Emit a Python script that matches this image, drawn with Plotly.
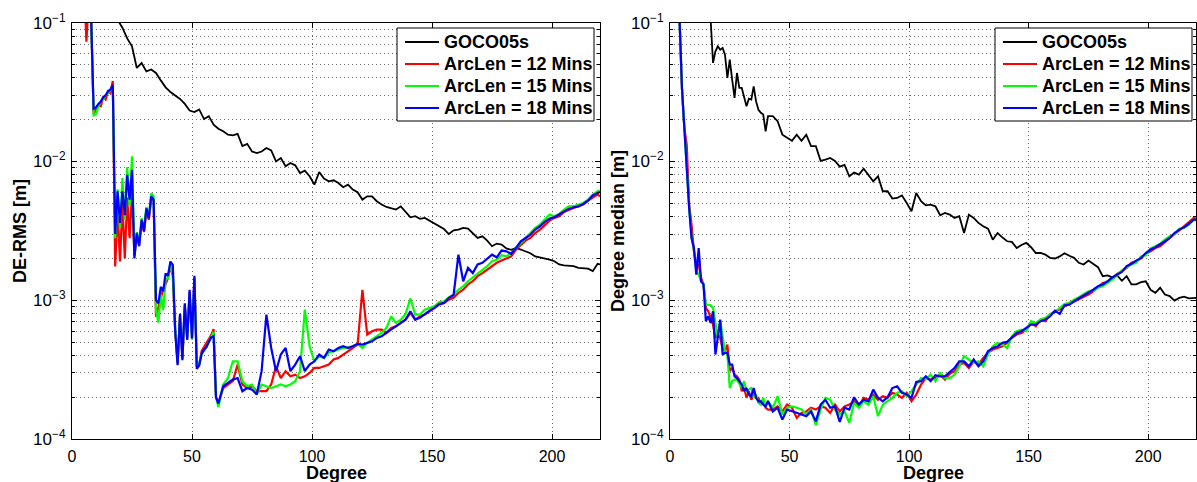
import plotly.graph_objects as go

# ---------------- data (values in mm; converted to m below) ----------------
L_deg = list(range(5, 62)) + list(range(63, 220, 2)) + [220]

L_red = [
    200, 73, 150, 105, 22, 23.5, 25.5, 25, 29, 28,
    32, 31, 38, 1.75, 4.5, 1.9, 5.0, 2.0, 5.5, 2.8,
    6.0, 2.1, 2.9, 2.5, 3.7, 3.1, 4.4, 3.8, 5.4, 5.2,
    0.76, 0.89, 1.05, 1.2, 1.3, 1.45, 1.75, 1.5, 0.6, 0.35,
    0.78, 0.38, 0.92, 0.52, 1.15, 0.54, 1.45, 0.33, 0.34, 0.43,
    0.46, 0.49, 0.53, 0.56, 0.62, 0.2, 0.18,
    0.233, 0.247, 0.261, 0.344, 0.247, 0.233, 0.240, 0.221, 0.221, 0.221,
    0.247, 0.334, 0.275, 0.308, 0.283, 0.291, 0.275, 0.283, 0.299, 0.325,
    0.325, 0.334, 0.344, 0.374, 0.384, 0.406, 0.429, 0.453, 0.479,
    1.19, 0.566, 0.598, 0.614, 0.614, 0.581, 0.632, 0.649, 0.686, 0.725,
    0.810, 0.725, 0.766, 0.788, 0.833, 0.880, 0.930, 0.956, 1.01, 1.04,
    1.13, 1.19, 1.30, 1.37, 1.49, 1.57, 1.66, 1.76, 1.86, 1.93,
    2.00, 2.07, 2.32, 2.52, 2.69, 2.81, 3.05, 3.23, 3.51, 3.75,
    3.92, 4.03, 4.33, 4.50, 4.62, 4.75, 4.89, 5.22, 5.52, 5.77,
    5.61]

L_green = [
    200, 150, 150, 105, 21.5, 22, 25, 27, 28, 30,
    31, 33, 35, 2.8, 6.3, 3.3, 7.6, 3.8, 9.1, 4.8,
    10.9, 2.2, 3.1, 2.6, 3.9, 3.3, 4.7, 4.0, 5.9, 5.6,
    0.85, 0.69, 1.1, 0.85, 1.4, 1.45, 1.8, 1.55, 0.62, 0.36,
    0.75, 0.4, 0.9, 0.54, 1.1, 0.52, 1.4, 0.34, 0.35, 0.41,
    0.43, 0.46, 0.5, 0.54, 0.59, 0.2, 0.17,
    0.247, 0.275, 0.363, 0.363, 0.261, 0.240, 0.247, 0.209, 0.247, 0.240,
    0.233, 0.240, 0.247, 0.240, 0.247, 0.261, 0.308, 0.855, 0.466, 0.363,
    0.395, 0.384, 0.418, 0.429, 0.441, 0.453, 0.458, 0.466, 0.484,
    0.453, 0.493, 0.521, 0.550, 0.581, 0.632, 0.766, 0.686, 0.725, 0.797,
    1.03, 0.788, 0.788, 0.856, 0.880, 0.905, 0.972, 0.983, 1.05, 1.10,
    1.19, 1.26, 1.37, 1.46, 1.57, 1.66, 1.76, 1.91, 1.96, 2.11,
    2.07, 2.19, 2.38, 2.63, 2.81, 3.05, 3.32, 3.51, 3.81, 4.14,
    4.03, 4.19, 4.50, 4.75, 4.75, 4.89, 5.02, 5.31, 5.77, 6.10,
    6.17]

L_blue = [
    200, 150, 150, 105, 24, 24.5, 26, 27, 29, 30,
    32, 33, 35.5, 3.0, 6.1, 3.6, 6.1, 4.1, 8.0, 5.3,
    8.7, 2.0, 3.05, 2.45, 3.8, 3.15, 4.6, 3.9, 5.6, 5.3,
    1.0, 0.95, 1.25, 1.16, 1.56, 1.5, 1.9, 1.8, 0.6, 0.34,
    0.8, 0.37, 0.95, 0.52, 1.19, 0.53, 1.5, 0.32, 0.34, 0.41,
    0.44, 0.46, 0.5, 0.54, 0.55, 0.2, 0.18,
    0.240, 0.254, 0.268, 0.275, 0.221, 0.233, 0.227, 0.209, 0.308, 0.787,
    0.453, 0.308, 0.406, 0.453, 0.308, 0.344, 0.395, 0.308, 0.344, 0.363,
    0.406, 0.384, 0.441, 0.429, 0.453, 0.466, 0.453, 0.466, 0.484,
    0.479, 0.493, 0.506, 0.535, 0.550, 0.581, 0.614, 0.649, 0.686, 0.725,
    0.833, 0.725, 0.746, 0.797, 0.842, 0.880, 0.940, 0.956, 1.04, 1.09,
    2.13, 1.37, 1.71, 1.57, 1.81, 1.86, 2.00, 2.13, 2.04, 2.28,
    2.25, 2.16, 2.38, 2.66, 2.81, 2.97, 3.23, 3.41, 3.67, 3.88,
    3.96, 4.14, 4.38, 4.57, 4.68, 4.75, 4.94, 5.22, 5.70, 5.93,
    6.03]

L_black_deg = list(range(17, 220, 2)) + [220]
L_black = [
    130, 105, 92, 77, 67.6, 47.2, 51.2, 44.6, 46, 43.4,
    38.4, 34.2, 31.7, 30.0, 28.2, 26.0, 23.3, 22.7, 23.7, 20.2,
    21.2, 18.4, 17.2,
    16.5, 15.6, 15.4, 15.8, 12.9, 13.4, 11.8, 11.5, 11.8, 12.5,
    12.0, 10.0, 10.6, 9.23, 9.75, 9.38, 8.26, 8.59, 7.82, 6.81,
    8.40, 7.52, 7.20, 7.32, 7.0, 6.52, 6.81, 6.27, 6.0,
    5.31, 5.61, 5.61, 5.17, 4.89, 4.70, 4.62, 4.50, 4.75, 4.30,
    3.96, 4.03, 3.86, 3.92, 3.75, 3.55, 3.41, 3.26, 3.00, 3.19,
    3.23, 3.32, 3.28, 3.05, 2.81, 2.89, 2.69, 2.45, 2.56, 2.52,
    2.36, 2.31, 2.38, 2.32, 2.25, 2.18, 2.07, 2.04, 2.00, 1.96,
    1.91, 1.81, 1.78, 1.76, 1.76, 1.71, 1.71, 1.69, 1.62, 1.83,
    1.81]

R_deg = list(range(4, 42)) + list(range(43, 220, 2)) + [220]

R_red = [
    105, 33.8, 17.4, 13.2, 4.9, 3.51, 2.25, 1.81, 1.81, 1.45,
    1.30, 0.88, 0.833, 0.746, 0.667, 0.535, 0.566, 0.535, 0.453, 0.429,
    0.479, 0.308, 0.325, 0.291, 0.283, 0.268, 0.221, 0.233, 0.198, 0.221,
    0.192, 0.209, 0.198, 0.198, 0.177, 0.187, 0.168, 0.163,
    0.163, 0.172, 0.158, 0.177, 0.168, 0.142, 0.154, 0.158, 0.168,
    0.163, 0.172, 0.168, 0.154, 0.177, 0.158, 0.172, 0.177, 0.187, 0.172,
    0.198, 0.192, 0.209, 0.192, 0.203, 0.198, 0.215, 0.209, 0.198, 0.215,
    0.187, 0.209, 0.247, 0.275, 0.268, 0.275, 0.291, 0.268, 0.295, 0.308,
    0.344, 0.353, 0.325, 0.363, 0.344, 0.384, 0.418, 0.441, 0.453, 0.466,
    0.493, 0.535, 0.566, 0.581, 0.614, 0.686, 0.649, 0.725, 0.706, 0.788,
    0.833, 0.856, 0.905, 0.940, 0.972, 1.01, 1.05, 1.10, 1.16, 1.24,
    1.33, 1.35, 1.45, 1.55, 1.62, 1.71, 1.86, 1.91, 2.00, 2.16,
    2.25, 2.38, 2.45, 2.63, 2.84, 3.00, 3.18, 3.41, 3.61, 3.92,
    3.88]

R_green = [
    105, 33.8, 17.4, 8.8, 4.7, 2.85, 2.3, 1.62, 1.53, 1.37,
    1.33, 0.93, 0.93, 0.92, 0.88, 0.667, 0.535, 0.706, 0.566, 0.429,
    0.406, 0.233, 0.261, 0.268, 0.268, 0.247, 0.233, 0.261, 0.221, 0.227,
    0.233, 0.198, 0.209, 0.182, 0.177, 0.198, 0.172, 0.187,
    0.168, 0.203, 0.150, 0.168, 0.172, 0.168, 0.163, 0.150, 0.163,
    0.126, 0.163, 0.198, 0.192, 0.163, 0.150, 0.158, 0.131, 0.182, 0.168,
    0.187, 0.177, 0.203, 0.146, 0.177, 0.187, 0.198, 0.215, 0.221, 0.203,
    0.221, 0.247, 0.275, 0.268, 0.291, 0.261, 0.299, 0.275, 0.275, 0.291,
    0.334, 0.395, 0.374, 0.353, 0.363, 0.334, 0.406, 0.466, 0.493, 0.479,
    0.453, 0.550, 0.598, 0.614, 0.598, 0.706, 0.686, 0.725, 0.746, 0.797,
    0.824, 0.880, 0.940, 0.956, 1.01, 1.05, 1.10, 1.16, 1.17, 1.23,
    1.26, 1.33, 1.41, 1.51, 1.64, 1.73, 1.81, 1.86, 2.07, 2.11,
    2.36, 2.45, 2.55, 2.73, 2.89, 2.97, 3.28, 3.32, 3.51, 3.81,
    3.75]

R_blue = [
    105, 33.8, 17.4, 8.5, 4.62, 2.81, 2.38, 1.53, 2.38, 1.37,
    1.30, 0.706, 0.766, 0.686, 0.833, 0.406, 0.535, 0.725, 0.406, 0.418,
    0.418, 0.344, 0.344, 0.283, 0.275, 0.261, 0.247, 0.221, 0.233, 0.209,
    0.203, 0.233, 0.198, 0.187, 0.187, 0.177, 0.172, 0.187,
    0.158, 0.168, 0.138, 0.163, 0.158, 0.154, 0.150, 0.146, 0.158,
    0.134, 0.177, 0.192, 0.168, 0.172, 0.133, 0.168, 0.163, 0.200, 0.177,
    0.192, 0.187, 0.227, 0.198, 0.187, 0.200, 0.233, 0.240, 0.215, 0.209,
    0.198, 0.258, 0.261, 0.283, 0.261, 0.288, 0.283, 0.283, 0.304, 0.325,
    0.363, 0.363, 0.334, 0.374, 0.334, 0.363, 0.429, 0.453, 0.466, 0.493,
    0.501, 0.541, 0.581, 0.598, 0.632, 0.667, 0.667, 0.706, 0.725, 0.766,
    0.842, 0.797, 0.920, 0.930, 0.983, 1.03, 1.09, 1.13, 1.19, 1.26,
    1.30, 1.37, 1.46, 1.53, 1.60, 1.76, 1.83, 1.93, 2.02, 2.19,
    2.32, 2.41, 2.52, 2.66, 2.81, 3.05, 3.23, 3.36, 3.55, 3.81,
    3.81]

R_black_deg = list(range(16, 42)) + list(range(43, 220, 2)) + [220]
R_black = [
    140, 105, 51.3, 62.2, 67.6, 63.9, 65.7, 58.9, 40.0, 54.2,
    38.9, 28.7, 43.4, 33.9, 33.9, 29.5, 25.0, 28.3, 27.9, 34.8,
    27.1, 23.6, 22.4, 21.8, 16.5, 21.2,
    21.2, 19.5, 15.6, 14.8, 14.1, 15.6, 14.1, 15.6, 12.9,
    12.9, 10.1, 10.3, 10.6, 10.1, 9.18, 9.44, 7.82, 8.31, 8.04,
    8.88, 8.04, 7.20, 7.82, 6.10, 6.10, 5.4, 5.46, 5.70, 5.02,
    4.38, 5.93, 5.17, 4.83, 4.89, 4.75, 4.10, 4.26, 4.14, 3.92,
    4.03, 3.05, 4.14, 3.92, 3.61, 3.41, 3.28, 2.73, 3.05, 2.84,
    2.66, 2.63, 2.38, 2.50, 2.59, 2.41, 2.19, 2.19, 2.13, 2.02,
    2.00, 2.07, 2.18, 2.09, 2.02, 1.86, 1.81, 1.93, 1.83, 1.73,
    1.49, 1.51, 1.46, 1.51, 1.38, 1.49, 1.30, 1.30, 1.35, 1.37,
    1.19, 1.13, 1.23, 1.10, 1.07, 0.994, 1.04, 1.06, 1.03, 1.03,
    1.04]

series_names = ["GOCO05s", "ArcLen = 12 Mins", "ArcLen = 15 Mins", "ArcLen = 18 Mins"]
series_colors = ["#000000", "#ff0000", "#00ff00", "#0000ff"]
y_titles = ["DE-RMS [m]", "Degree median [m]"]
x_title = "Degree"
x_ticks = [0, 50, 100, 150, 200]
y_ticks = [1e-4, 1e-3, 1e-2, 1e-1]
y_ticktext = ["10<sup>\u22124</sup>", "10<sup>\u22123</sup>", "10<sup>\u22122</sup>", "10<sup>\u22121</sup>"]
y_minor = [k * 10.0 ** e for e in (-4, -3, -2) for k in range(2, 10)]

MM = 1e-3  # mm -> m

# ---------------- figure ----------------
W, H = 1197, 482
FONT = "Liberation Sans, Arial, Helvetica, sans-serif"

fig = go.Figure()

panels = [
    (L_black_deg, L_black, L_deg, [L_red, L_green, L_blue], "x", "y"),
    (R_black_deg, R_black, R_deg, [R_red, R_green, R_blue], "x2", "y2"),
]
for bdeg, bval, cdeg, cvals, xa, ya in panels:
    fig.add_trace(go.Scatter(x=bdeg, y=[v * MM for v in bval], mode="lines",
                             name=series_names[0], line=dict(color=series_colors[0], width=1.8),
                             xaxis=xa, yaxis=ya, showlegend=False))
    for i, vals in enumerate(cvals):
        fig.add_trace(go.Scatter(x=cdeg, y=[v * MM for v in vals], mode="lines",
                                 name=series_names[i + 1],
                                 line=dict(color=series_colors[i + 1], width=2.2),
                                 xaxis=xa, yaxis=ya, showlegend=False))

x_dom = [[72 / W, 600 / W], [670 / W, 1196 / W]]
y_dom = [1 - 439 / H, 1 - 22.7 / H]
GRID = "#6e6e6e"
GDASH = "1px,3px"

common_x = dict(range=[0, 220], tickvals=x_ticks, ticks="inside", ticklen=5, tickcolor="black",
                showline=True, linecolor="black", linewidth=1, mirror="ticks",
                showgrid=True, gridcolor=GRID, griddash=GDASH, gridwidth=1, zeroline=False,
                tickfont=dict(family=FONT, size=16, color="black"), automargin=False,
                ticklabelstandoff=3)
common_y = dict(type="log", range=[-4, -1], tickvals=y_ticks, ticktext=y_ticktext,
                ticks="inside", ticklen=5, tickcolor="black",
                showline=True, linecolor="black", linewidth=1, mirror="ticks",
                showgrid=True, gridcolor=GRID, griddash=GDASH, gridwidth=1, zeroline=False,
                minor=dict(tickvals=y_minor, ticks="inside", ticklen=3, tickcolor="black",
                           showgrid=True, gridcolor=GRID, griddash=GDASH, gridwidth=1),
                tickfont=dict(family=FONT, size=17, color="black"), automargin=False,
                ticklabelstandoff=2)

fig.update_layout(
    width=W, height=H, margin=dict(l=0, r=0, t=0, b=0),
    paper_bgcolor="white", plot_bgcolor="white", showlegend=False,
    xaxis=dict(domain=x_dom[0], anchor="y", **common_x),
    yaxis=dict(domain=y_dom, anchor="x", **common_y),
    xaxis2=dict(domain=x_dom[1], anchor="y2", **common_x),
    yaxis2=dict(domain=y_dom, anchor="x2", **common_y),
    font=dict(family=FONT, color="black"),
)

# ---------------- legends (box, line samples, labels) ----------------
def px_x(p):
    return p / W


def px_y(p):
    return 1 - p / H


for box_left in [397, 995]:
    fig.add_shape(type="rect", xref="paper", yref="paper",
                  x0=px_x(box_left), x1=px_x(box_left + 197), y0=px_y(121), y1=px_y(28),
                  line=dict(color="black", width=1), fillcolor="white", layer="above")
    for i, (nm, col) in enumerate(zip(series_names, series_colors)):
        row_y = 42 + 22 * i
        fig.add_shape(type="line", xref="paper", yref="paper",
                      x0=px_x(box_left + 8), x1=px_x(box_left + 42), y0=px_y(row_y), y1=px_y(row_y),
                      line=dict(color=col, width=2), layer="above")
        fig.add_annotation(text="<b>" + nm + "</b>", x=px_x(box_left + 45), y=px_y(row_y),
                           xref="paper", yref="paper", showarrow=False,
                           xanchor="left", yanchor="middle",
                           font=dict(family=FONT, size=18, color="black"))

# axis titles
for cx in [(72 + 600) / 2, (670 + 1196) / 2]:
    fig.add_annotation(text="<b>" + x_title + "</b>", x=px_x(cx), y=px_y(473), xref="paper", yref="paper",
                       showarrow=False, font=dict(family=FONT, size=18, color="black"),
                       xanchor="center", yanchor="middle")
for cx, t in zip([20, 618], y_titles):
    fig.add_annotation(text="<b>" + t + "</b>", x=px_x(cx), y=px_y(231), xref="paper", yref="paper",
                       showarrow=False, textangle=-90, font=dict(family=FONT, size=18, color="black"),
                       xanchor="center", yanchor="middle")

fig.write_html("out.html")
